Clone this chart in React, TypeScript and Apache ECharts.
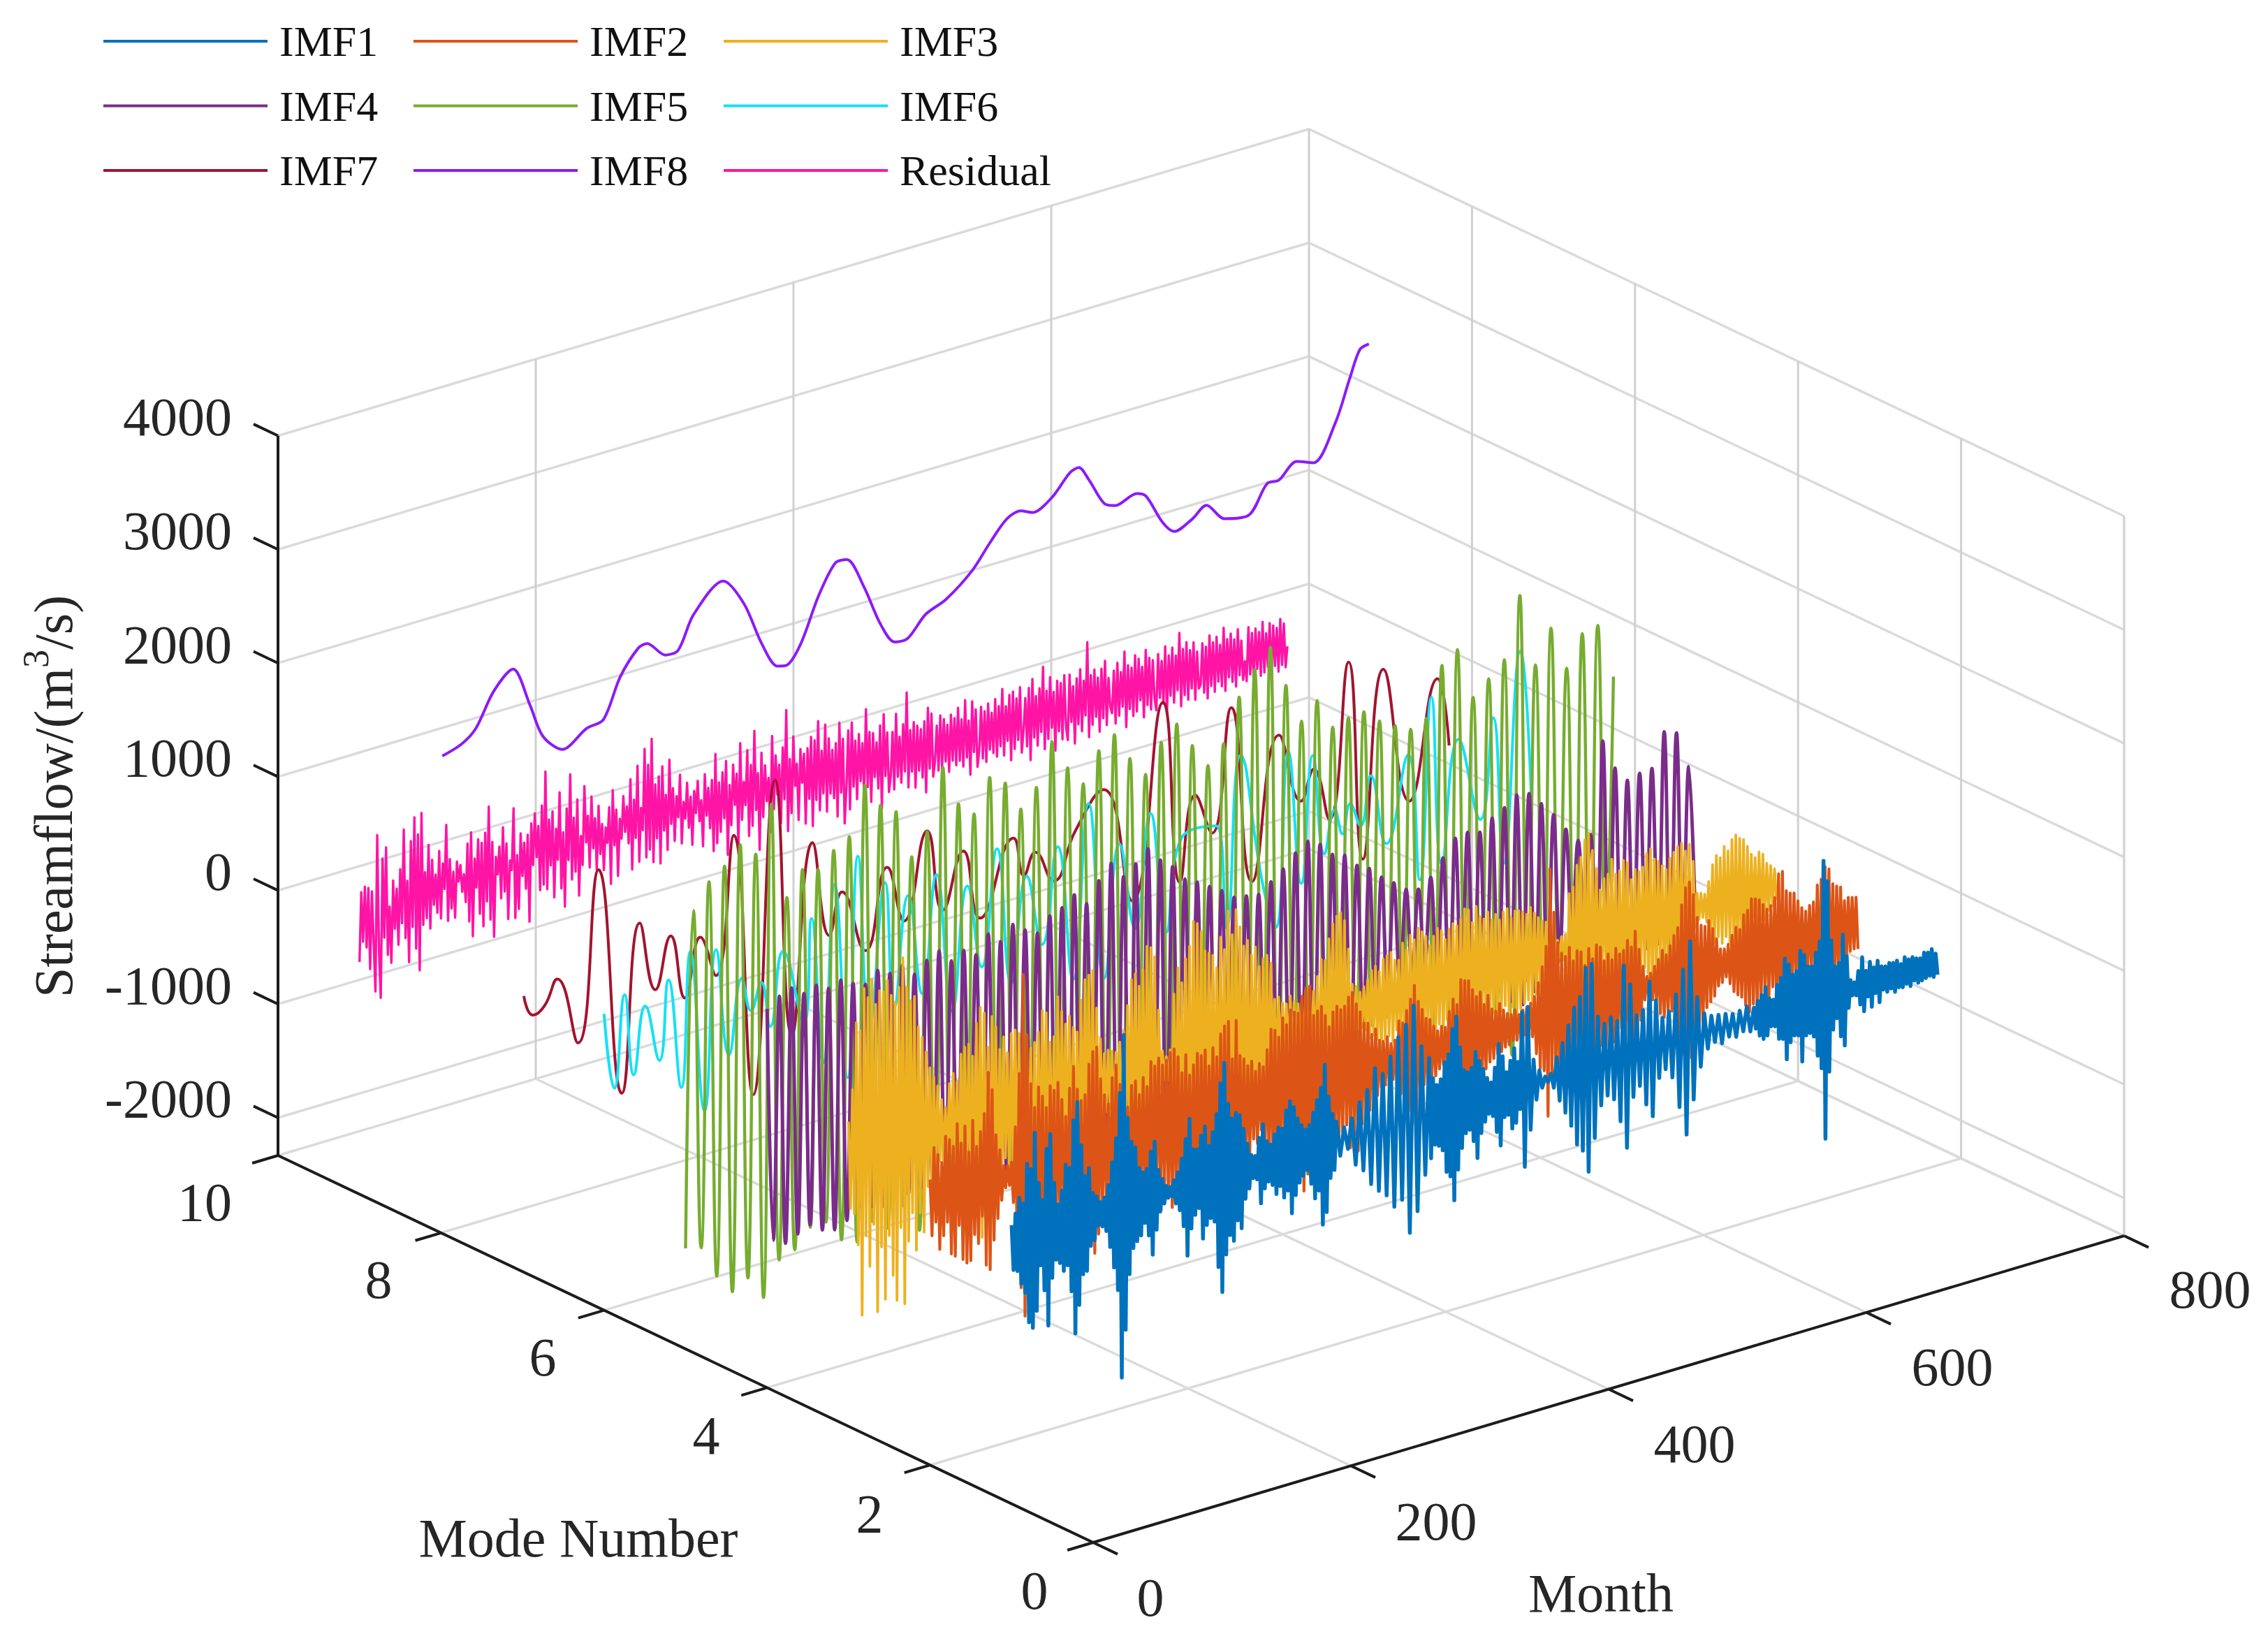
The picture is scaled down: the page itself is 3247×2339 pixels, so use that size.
import React, { useEffect, useRef } from "react";
import * as echarts from "echarts";

const SERIES_NAMES = ["IMF1", "IMF2", "IMF3", "IMF4", "IMF5", "IMF6", "IMF7", "IMF8", "Residual"];
const COLORS = ["#0072BD", "#DC5516", "#EDB120", "#7A2C8A", "#77AC30", "#14E1F5", "#A2142F", "#8B1CF7", "#FF14A5"];
const LINE_WIDTHS = [5.5, 4.2, 3.8, 5, 4.4, 4, 4, 4, 3.4];
const TOTAL_MONTHS = 720;
const MONTH_TICKS = [0, 200, 400, 600, 800];
const MODE_TICKS = [0, 2, 4, 6, 8, 10];
const FLOW_TICKS = [-2000, -1000, 0, 1000, 2000, 3000, 4000];

// Start month of each row of 24 values in imf1
const imf1RowMonths = [0, 36, 72, 108, 144, 180, 216, 252, 324, 360, 396, 450, 510, 576, 612, 648, 684, 720];
const imf1 = [
  120,-280,210,-300,340,-420,280,-510,620,-780,560,-840,870,-700,420,-310,260,-540,700,-860,820,-450,380,-300,
  180,-340,290,-420,510,-380,470,-620,880,-1000,1030,-760,640,-500,360,-480,420,-270,190,-230,150,-110,90,-130,
  120,-180,220,-330,410,-520,610,-730,1000,-1510,1500,-1100,760,-620,540,-400,480,-350,290,-310,240,-210,260,-330,
  400,-510,480,-300,220,-150,130,-90,60,-50,40,-45,90,-120,150,-190,260,-340,420,-610,590,-380,310,-270,
  300,-220,410,-500,480,-390,300,-340,410,-380,560,-790,820,-1020,990,-700,620,-540,480,-600,520,-430,490,-510,
  360,-260,220,-180,110,-100,90,-120,240,-340,350,-220,190,-170,150,-210,230,-300,280,-240,260,-350,410,-300,
  480,-510,420,-360,310,-260,240,-210,190,-170,220,-300,320,-440,420,-380,520,-690,710,-590,420,-300,260,-240,
  180,-130,110,-90,170,-250,290,-320,380,-460,550,-540,480,-600,610,-720,760,-680,850,-990,1000,-820,620,-520,
  500,-390,310,-280,240,-300,280,-350,420,-550,480,-600,690,-820,790,-560,510,-380,300,-260,270,-240,300,-350,
  430,-510,340,-300,260,-210,170,-150,120,-180,240,-330,440,-460,320,-220,170,-210,260,-340,360,-300,230,-190,
  660,-710,690,-400,210,-150,100,-60,30,-25,40,-90,170,-220,280,-340,420,-470,560,-650,640,-720,880,-920,
  900,-640,420,-370,340,-300,380,-350,330,-560,800,-810,620,-380,330,-300,360,-480,590,-600,410,-280,240,-220,
  280,-310,410,-590,610,-850,840,-560,330,-290,170,-150,130,-110,120,-140,110,-100,90,-120,100,-90,120,-110,
  90,-100,140,-170,180,-210,240,-190,130,-120,110,-130,230,-250,280,-260,440,-450,380,-310,280,-260,300,-270,
  470,-510,420,-290,310,-280,300,-320,410,-500,500,-620,1200,-1250,1010,-670,480,-310,240,-220,260,-390,500,-480,
  300,-160,80,-60,50,-70,140,-160,250,-230,120,-110,190,-210,130,-100,180,-190,120,-90,110,-120,130,-100,
  120,-140,130,-110,90,-120,140,-100,110,-130,120,-90,100,-120,90,-110,130,-100,120,-90,140,-110,90,-100,
];

const imf2 = [
  180,-320,450,-210,380,-460,300,-350,520,-240,480,-530,410,-560,600,-300,420,-610,560,-650,320,-640,590,-420,
  350,-510,470,-280,620,-720,970,-770,810,-520,400,-340,260,-190,110,-90,100,-80,120,-240,420,-610,880,-1010,
  1740,-1270,1200,-980,760,-700,540,-690,710,-430,620,-680,510,-700,690,-350,640,-710,700,-420,540,-450,380,-440,
  620,-790,800,-520,590,-610,480,-590,520,-640,780,-620,880,-900,910,-740,620,-510,470,-500,380,-470,600,-660,
  700,-640,520,-480,430,-450,300,-460,480,-390,510,-470,380,-440,520,-490,430,-520,640,-610,590,-360,650,-620,
  580,-470,610,-590,670,-700,690,-560,610,-620,460,-550,610,-590,420,-510,500,-480,590,-620,560,-420,600,-570,
  450,-400,600,-480,510,-620,700,-660,760,-810,790,-560,450,-620,780,-700,460,-510,420,-440,350,-420,380,-310,
  280,-360,340,-250,300,-340,440,-560,610,-480,590,-600,520,-410,680,-530,610,-700,730,-650,700,-520,680,-710,
  820,-900,880,-760,890,-810,620,-570,650,-720,680,-540,590,-620,480,-510,600,-550,640,-590,600,-480,620,-430,
  690,-640,720,-540,610,-690,530,-460,420,-380,410,-360,300,-280,340,-250,230,-190,210,-180,240,-190,170,-150,
  190,-230,350,-300,320,-380,420,-470,510,-590,620,-580,470,-350,390,-280,300,-340,280,-220,210,-230,160,-180,
  190,-150,170,-210,300,-320,400,-390,340,-510,550,-480,530,-440,520,-550,430,-390,360,-320,390,-350,270,-300,
  340,-250,210,-230,180,-200,240,-190,170,-160,130,-150,110,-120,140,-130,90,-110,120,-100,130,-110,160,-140,
  210,-300,320,-440,450,-470,620,-880,1290,-550,900,-530,620,-590,520,-600,480,-510,550,-530,420,-490,500,-460,
  480,-510,350,-460,490,-410,390,-440,500,-490,470,-400,340,-420,390,-380,330,-400,420,-350,360,-300,380,-410,
  460,-500,390,-470,520,-480,350,-280,190,-110,90,-80,110,-130,160,-140,210,-270,280,-310,230,-260,300,-280,
  380,-420,440,-520,630,-690,770,-790,810,-740,690,-620,480,-560,400,-460,380,-340,420,-300,340,-260,240,-180,
  140,-160,130,-120,160,-190,230,-270,290,-310,260,-340,380,-420,410,-490,500,-430,490,-520,470,-390,420,-350,
  370,-410,390,-330,450,-520,650,-610,660,-590,480,-520,450,-380,440,-300,360,-310,290,-280,250,-300,290,-260,
  310,-380,450,-460,490,-530,590,-610,560,-470,420,-480,390,-340,370,-280,240,-290,260,-220,250,-210,240,-220,
];

const imf3 = [
  350,-420,620,-480,1200,-760,1120,-1390,1480,-700,1390,-980,1540,-620,1310,-1400,1420,-840,1400,-1310,1490,-760,1350,-1120,
  1280,-1350,1400,-720,1650,-1400,1380,-860,1250,-620,1280,-960,1000,-640,900,-820,760,-430,610,-480,520,-310,430,-240,
  300,-280,220,-260,420,-200,500,-380,420,-500,650,-370,700,-480,720,-560,600,-690,880,-720,1010,-1020,950,-720,
  640,-860,900,-480,800,-620,590,-740,690,-380,540,-620,700,-460,720,-510,680,-620,590,-760,600,-680,520,-690,
  560,-780,640,-690,820,-490,790,-700,520,-640,560,-810,900,-620,760,-520,640,-560,700,-610,590,-640,540,-680,
  810,-560,980,-760,1010,-840,1040,-720,700,-500,420,-310,280,-240,300,-220,280,-320,260,-220,340,-400,420,-510,
  640,-560,860,-620,900,-700,780,-510,920,-700,1110,-860,1090,-980,1000,-820,520,-180,150,-110,90,-120,140,-460,
  620,-720,840,-520,700,-810,900,-700,1000,-1030,1210,-960,1180,-900,1100,-1080,920,-640,890,-760,860,-700,740,-640,
  1000,-760,880,-1100,1210,-980,990,-1180,1200,-860,1040,-970,860,-740,900,-890,760,-660,820,-720,640,-510,700,-610,
  720,-560,640,-420,310,-290,320,-280,260,-190,240,-210,300,-280,240,-200,210,-180,230,-260,310,-280,240,-220,
  280,-360,400,-470,540,-350,520,-620,700,-560,820,-640,880,-760,900,-560,820,-680,560,-380,240,-190,210,-170,
  150,-170,190,-200,240,-280,310,-260,340,-310,280,-420,380,-330,400,-310,420,-370,340,-280,330,-390,470,-350,
  400,-420,520,-540,470,-540,560,-480,520,-430,470,-400,380,-420,450,-480,510,-340,480,-430,390,-320,470,-420,
  510,-390,480,-510,530,-590,610,-430,590,-520,470,-450,600,-480,500,-360,470,-420,520,-490,440,-380,480,-510,
  420,-390,480,-350,500,-460,410,-380,460,-500,450,-420,430,-380,400,-360,450,-410,390,-330,340,-280,300,-260,
  280,-150,100,-90,60,-80,90,-70,110,-100,120,-400,470,-380,520,-590,700,-510,760,-880,900,-820,950,-940,
  790,-470,620,-390,420,-300,510,-350,540,-610,660,-480,520,-620,540,-560,620,-400,590,-600,430,-460,510,-420,
  480,-400,510,-380,620,-550,650,-620,550,-480,520,-410,470,-500,430,-490,520,-480,560,-450,600,-480,620,-560,
  540,-470,590,-580,430,-160,140,-100,130,-90,110,-140,210,-310,350,-340,420,-300,390,-370,480,-320,430,-390,
  520,-460,550,-530,510,-420,490,-530,420,-360,340,-220,300,-280,340,-260,310,-270,220,-200,190,-170,150,-130,
];

const imf4 = [
  1000,-1050,1080,-1110,1120,-1060,1040,-1010,1080,-1090,1020,-1120,
  1060,-1070,1000,-980,960,-1010,1050,-1040,990,-960,1030,-1000,
  920,-980,1010,-1020,1060,-1030,940,-990,1000,-950,930,-1000,
  1080,-1060,980,-1040,1100,-1080,1020,-1010,960,-1030,1080,-1100,
  1120,-1150,1200,-1180,1090,-1130,1260,-1240,1380,-1290,1230,-1270,
  1310,-1350,1410,-1360,1280,-1210,1190,-1100,1050,-1000,990,-960,
  920,-880,850,-820,760,-790,740,-780,720,-760,800,-840,
  880,-900,990,-960,1060,-1020,1000,-970,880,-910,840,-790,
  720,-680,660,-600,550,-520,470,-430,380,-360,350,-330,
  420,-500,560,-610,700,-680,720,-650,690,-720,780,-760,
  840,-880,920,-940,900,-860,780,-720,650,-580,490,-420,
  360,-330,380,-620,1170,-1010,900,-820,760,-740,790,-770,
  800,-760,1090,-980,1050,-830,720,-540,
];

const imf5 = [
  -1447,1507,-1483,1717,-1772,1813,-1950,1962,-1870,1838,-2083,2238,
  -1793,1375,-1745,1580,-1590,1543,-1583,1666,-1780,1747,-1840,2160,
  -1700,1942,-1800,1844,-1650,1406,-1900,1586,-1750,2112,-1640,1750,
  -1820,1620,-1710,1900,-1560,1810,-1680,1540,-1870,1690,-1600,2050,
  -1760,1780,-1530,1600,-1660,1850,-1720,1950,-1810,1700,-1490,1520,
  -1620,1760,-1740,1880,-1580,1650,-1400,1435,-1500,1586,-1650,1954,
  -1720,2157,-1860,2310,-1760,1935,-1420,1580,-1530,1720,-1300,1444,
  -1390,1487,-1410,1500,-1280,1377,-1250,1297,-1190,1223,-1260,1278,
  -1540,1703,-1620,1800,-1240,1340,-1380,1463,-1480,1589,-1910,2114,
  -1300,1463,-1560,1745,-1210,1352,-1490,1616,-1530,1647,-1000,1155,
];

const imf6Months = [
  0,8,16,23,32,43,50,60,67,78,87,97,107,114,122,129,139,155,161,170,179,189,197,206,218,225,
  236,247,258,270,282,293,305,316,328,340,352,364,376,388,400,412,424,436,448,
  475,483,494,511,521,531,541,550,559,567,573,579,587,595,607,624,633,642,650,663,680,690,698,711,720,
];
const imf6 = [
  276,-405,390,-338,237,-279,406,-574,598,-842,547,-411,229,-80,141,-270,357,-325,572,-733,811,-922,999,-530,695,-430,
  520,-380,630,-610,450,-300,700,-520,380,-260,560,-650,860,-720,420,-360,610,-480,310,
  328,-596,884,-300,-725,790,-400,694,-200,160,-74,172,-50,363,-274,449,-680,897,-596,455,-307,553,-756,1070,-400,
];

const imf7Months = [
  1,8,17,27,43,59,77,91,103,115,126,138,150,164,179,196,209,225,238,248,266,283,296,314,326,342,355,
  381,389,398,412,429,451,473,497,510,522,535,550,566,587,604,614,626,641,652,668,688,710,719,
];
const imf7 = [
  89,-103,-52,150,-466,1004,-1023,428,-200,233,-350,145,-234,953,-1379,1330,-958,682,-178,172,-406,270,-246,486,-254,215,-420,
  197,-160,15,-284,100,387,-664,1000,-627,100,-279,775,-811,408,-230,18,-465,869,-903,715,-514,489,-129,
];

const imf8Months = [
  1,16,27,41,56,69,79,94,113,126,139,153,160,174,184,196,219,235,249,261,268,279,293,306,315,328,341,352,362,
  376,392,412,426,439,450,459,474,488,495,503,515,523,540,547,560,569,583,594,608,627,641,650,664,677,694,705,713,720,
];
const imf8 = [
  1860,1915,2015,2297,2439,2080,1772,1604,1725,1759,2090,2296,2313,2165,2173,2447,2664,2412,2009,1774,1757,1906,2285,2530,2529,2250,1874,1679,1676,
  1841,1921,2103,2304,2469,2503,2458,2539,2710,2732,2592,2345,2303,2351,2305,2029,1920,1983,2066,1900,1870,2098,2097,2216,2160,2455,2803,3035,3060,
];

const residual = [
  -290,320,-120,360,-180,340,-380,300,-160,-590,780,-240,-660,560,-140,650,-300,120,-380,340,-90,260,-240,420,-60,
  760,-200,300,-420,640,-120,840,-320,680,-520,860,-130,330,-80,560,-180,420,20,280,-60,480,-120,360,130,690,
  -160,380,-60,260,-150,340,160,300,60,210,-40,470,-220,560,-360,320,60,480,-180,440,-300,520,-90,740,-260,
  420,-420,280,120,360,-100,520,-50,370,-300,210,120,660,-310,240,-240,420,40,330,-80,390,-380,480,110,560,
  170,440,-130,610,-90,900,-140,470,60,530,-230,370,90,680,-170,320,-340,520,60,810,-120,420,-60,570,-280,
  240,-20,670,170,400,-60,560,100,360,-100,460,30,290,-120,250,110,420,-260,560,70,380,-210,290,110,480,
  160,380,50,610,-190,420,80,710,-140,330,130,840,-120,690,-60,910,-180,500,20,560,-210,640,70,380,-110,
  680,110,420,-50,340,150,520,-90,270,120,430,30,300,-130,340,140,420,60,240,-170,460,90,330,-30,390,
  -240,610,-180,350,-90,430,20,520,-310,300,-60,470,110,380,-270,640,-40,290,80,560,-200,420,-120,710,10,
  330,-350,500,-70,380,60,260,-220,620,-30,440,90,350,-170,490,30,810,-260,370,-110,560,120,310,-190,430,
  130,380,-240,420,-30,510,-280,470,-60,630,-160,360,-20,580,-190,450,-40,340,-90,390,-260,560,-60,410,-340,
  -20,470,-230,530,-40,360,-160,410,-10,320,-140,610,-80,400,-220,380,-10,290,-120,430,-310,520,-30,350,-180,
  -50,340,-170,490,-70,280,-130,380,-40,650,-190,310,-60,370,-210,330,-70,290,-140,350,-280,460,-80,400,-160,
  -30,280,-120,360,-110,320,-60,260,-160,340,-70,300,-120,380,-90,270,-150,430,-80,240,-240,400,-50,320,-190,
  -50,330,-130,280,-170,340,-70,250,-110,360,-150,290,-70,430,-160,270,-40,360,-220,380,-130,310,-60,400,-180,
  10,290,-140,370,-270,440,-80,280,-160,340,-50,520,-210,300,-130,410,-40,270,-250,360,-90,330,-170,390,-70,
  -190,380,-40,270,-240,330,-80,400,-150,290,-20,620,-220,320,-120,360,-60,280,-200,350,-90,410,-160,250,-10,
  -70,300,-170,360,-110,270,-40,440,-230,310,-80,280,-150,380,-120,340,-30,260,-190,400,-90,320,-140,290,-50,
  -160,330,-60,260,-120,380,-210,290,-70,350,-140,270,-40,460,-190,310,-100,360,-150,280,-60,340,-170,250,-80,
  -50,310,-130,270,-190,360,-90,290,-150,330,-70,250,-120,390,-170,280,-60,320,-110,260,-160,340,-70,230,-120,
  40,-140,330,-90,270,-170,300,-60,260,-130,340,-110,230,-70,310,-160,280,-80,250,-140,320,-90,270,-120,60,
];

// The picture's own 3D frame, an orthographic view
const FLOOR_ORIGIN = [1565, 2208];
const MONTH_DIR = [1476 / 800, -439 / 800];
const MODE_DIR = [-1167 / 10, -554 / 10];
const FLOW_PX = 0.1627;
const FLOW_BOTTOM = -2332;
const FLOW_TOP = 4000;

function project(month: number, mode: number, flow: number): [number, number] {
  return [
    FLOOR_ORIGIN[0] + month * MONTH_DIR[0] + mode * MODE_DIR[0],
    FLOOR_ORIGIN[1] + month * MONTH_DIR[1] + mode * MODE_DIR[1] - (flow - FLOW_BOTTOM) * FLOW_PX,
  ];
}

function even(values: number[]) {
  return values.map((_, i) => (i * TOTAL_MONTHS) / (values.length - 1));
}

function byRows(values: number[], rowMonths: number[], perRow: number) {
  return values.map((_, i) => {
    const r = Math.floor(i / perRow);
    return rowMonths[r] + ((rowMonths[r + 1] - rowMonths[r]) * (i % perRow)) / perRow;
  });
}

const FONT = "Liberation Serif";
const GRID = "#dadada";
const GRID_V = "#d0d0d0";
const AXIS = "#1c1c1c";

function seg(points: [number, number][], color: string, width: number) {
  return {
    type: "line",
    data: points,
    symbol: "none",
    silent: true,
    clip: false,
    lineStyle: { color, width },
    itemStyle: { color },
    z: 1,
  };
}

function label(text: string, x: number, y: number, align = "center", size = 78) {
  return {
    type: "text",
    x,
    y,
    silent: true,
    style: { text, fill: "#262626", font: `${size}px "${FONT}"`, textAlign: align, textVerticalAlign: "middle" },
  };
}

function buildOption() {
  const frame: any[] = [];
  FLOW_TICKS.concat([FLOW_BOTTOM]).forEach((f) => {
    frame.push(seg([project(0, 10, f), project(800, 10, f), project(800, 0, f)], GRID, 3.5));
  });
  [200, 400, 600, 800].forEach((m) => {
    frame.push(seg([project(m, 10, FLOW_BOTTOM), project(m, 10, FLOW_TOP)], GRID_V, 3));
    frame.push(seg([project(m, 0, FLOW_BOTTOM), project(m, 10, FLOW_BOTTOM)], GRID, 3.5));
  });
  [0, 2, 4, 6, 8].forEach((m) => {
    frame.push(seg([project(800, m, FLOW_BOTTOM), project(800, m, FLOW_TOP)], GRID_V, 3));
  });
  [2, 4, 6, 8].forEach((m) => {
    frame.push(seg([project(0, m, FLOW_BOTTOM), project(800, m, FLOW_BOTTOM)], GRID, 3.5));
  });
  const axes: any[] = [
    seg([project(0, 10, FLOW_BOTTOM), project(0, 10, FLOW_TOP)], AXIS, 4),
    seg([project(0, 10, FLOW_BOTTOM), project(0, 0, FLOW_BOTTOM)], AXIS, 4),
    seg([project(0, 0, FLOW_BOTTOM), project(800, 0, FLOW_BOTTOM)], AXIS, 4),
  ];
  FLOW_TICKS.forEach((f) => {
    axes.push(seg([project(0, 10, f), project(0, 10.3, f)], AXIS, 4));
  });
  MODE_TICKS.forEach((m) => {
    axes.push(seg([project(0, m, FLOW_BOTTOM), project(-20, m, FLOW_BOTTOM)], AXIS, 4));
  });
  MONTH_TICKS.forEach((m) => {
    axes.push(seg([project(m, 0, FLOW_BOTTOM), project(m, -0.3, FLOW_BOTTOM)], AXIS, 4));
  });

  const all = [imf1, imf2, imf3, imf4, imf5, imf6, imf7, imf8, residual];
  const months = [byRows(imf1, imf1RowMonths, 24), even(imf2), even(imf3), even(imf4), even(imf5), imf6Months, imf7Months, imf8Months, even(residual)];
  const smooths = [false, false, false, 0.4, 0.5, 0.5, 0.5, 0.3, false];
  const data = all
    .map((vals, k) => ({
      type: "line",
      name: SERIES_NAMES[k],
      data: vals.map((v, i) => project(months[k][i], k + 1, v)),
      symbol: "none",
      silent: true,
      clip: false,
      smooth: smooths[k],
      lineStyle: { color: COLORS[k], width: LINE_WIDTHS[k], join: "round" },
      itemStyle: { color: COLORS[k] },
      z: 2,
    }))
    .reverse();

  const legendCol = (names: string[], left: number) => ({
    data: names,
    orient: "vertical",
    left,
    top: 23,
    icon: "rect",
    itemWidth: 235,
    itemHeight: 4,
    itemGap: 30.5,
    selectedMode: false,
    textStyle: { fontFamily: FONT, fontSize: 62, lineHeight: 60, color: "#111111", padding: [0, 0, 0, 12] },
  });

  const graphic: any[] = [];
  FLOW_TICKS.forEach((f) => {
    const p = project(0, 10, f);
    graphic.push(label(String(f), 332, p[1] - 27, "right"));
  });
  const modePos: [number, number, number][] = [[10, 293, 1720], [8, 542, 1831], [6, 777, 1942], [4, 1011, 2054], [2, 1245, 2166], [0, 1481, 2276]];
  modePos.forEach(([m, x, y]) => graphic.push(label(String(m), x, y)));
  const monthPos: [number, number, number][] = [[0, 1647, 2286], [200, 2056, 2177], [400, 2426, 2066], [600, 2795, 1956], [800, 3164, 1845]];
  monthPos.forEach(([m, x, y]) => graphic.push(label(String(m), x, y)));
  graphic.push(label("Month", 2292, 2280));
  graphic.push(label("Mode Number", 828, 2201));
  graphic.push({
    type: "text",
    x: 70,
    y: 1140,
    rotation: Math.PI / 2,
    silent: true,
    style: {
      text: "{a|Streamflow/(m}{b|3}{a|/s)}",
      textAlign: "center",
      textVerticalAlign: "middle",
      rich: {
        a: { font: `78px "${FONT}"`, fill: "#262626", verticalAlign: "bottom", lineHeight: 90 },
        b: { font: `52px "${FONT}"`, fill: "#262626", verticalAlign: "top", lineHeight: 90 },
      },
    },
  });

  return {
    animation: false,
    backgroundColor: "#ffffff",
    grid: { left: 0, right: 0, top: 0, bottom: 0 },
    xAxis: { type: "value", min: 0, max: 3247, show: false },
    yAxis: { type: "value", min: 0, max: 2339, inverse: true, show: false },
    legend: [
      legendCol(["IMF1", "IMF4", "IMF7"], 143),
      legendCol(["IMF2", "IMF5", "IMF8"], 587),
      legendCol(["IMF3", "IMF6", "Residual"], 1031),
    ],
    series: [...frame, ...axes, ...data],
    graphic,
  };
}

export default function App() {
  const ref = useRef<HTMLDivElement>(null);
  useEffect(() => {
    const chart = echarts.init(ref.current as HTMLDivElement, undefined, { renderer: "svg" });
    chart.setOption(buildOption() as any);
    return () => chart.dispose();
  }, []);
  return <div ref={ref} style={{ position: "absolute", left: 0, top: 0, width: 3247, height: 2339 }} />;
}
